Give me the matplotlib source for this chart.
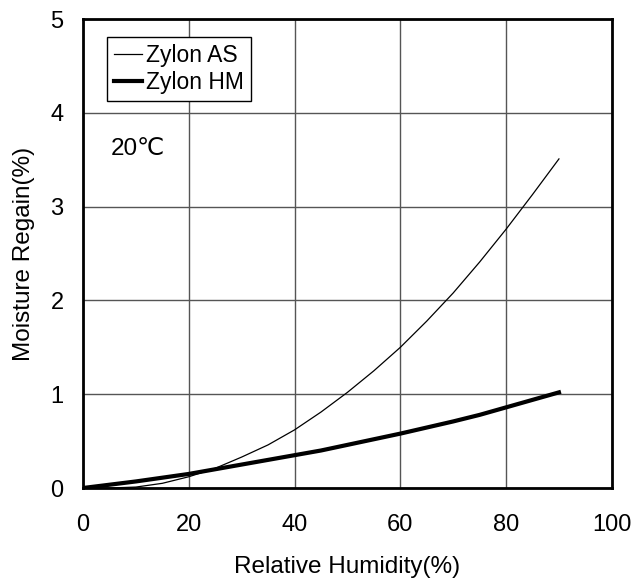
import matplotlib
matplotlib.use("Agg")
import matplotlib.pyplot as plt

plt.rcParams['font.family'] = ['Liberation Sans', 'DejaVu Sans']

# Relative humidity (%) vs moisture regain (%) at 20C
humidity = [0, 5, 10, 15, 20, 25, 30, 35, 40, 45, 50, 55, 60, 65, 70, 75, 80, 85, 90]
regain_as = [0.0, 0.0, 0.01, 0.05, 0.12, 0.21, 0.33, 0.46, 0.62, 0.81, 1.02,
             1.25, 1.50, 1.78, 2.08, 2.41, 2.76, 3.13, 3.51]
regain_hm = [0.0, 0.035, 0.07, 0.11, 0.15, 0.20, 0.25, 0.30, 0.35, 0.40, 0.46,
             0.52, 0.58, 0.645, 0.71, 0.78, 0.86, 0.94, 1.02]

fig = plt.figure(figsize=(6.36, 5.82), dpi=100)
ax = fig.add_axes([0.1305, 0.1615, 0.8315, 0.8055])

ax.plot(humidity, regain_as, color='black', linewidth=0.9, label='Zylon AS')
ax.plot(humidity, regain_hm, color='black', linewidth=3.0, label='Zylon HM')

ax.set_xlim(0, 100)
ax.set_ylim(0, 5)
ax.set_xticks([0, 20, 40, 60, 80, 100])
ax.set_yticks([0, 1, 2, 3, 4, 5])
ax.grid(True, color='#555555', linewidth=1.0)
ax.tick_params(length=0, labelsize=17)
ax.tick_params(axis='x', pad=19)
ax.tick_params(axis='y', pad=14)
for s in ax.spines.values():
    s.set_linewidth(2)

ax.set_xlabel('Relative Humidity(%)', fontsize=17.5, labelpad=14)
ax.set_ylabel('Moisture Regain(%)', fontsize=17.5, labelpad=11)

ax.text(5.2, 3.55, '20\u2103', fontsize=17.5)

leg = ax.legend(loc='upper left', bbox_to_anchor=(0.046, 0.962), fontsize=16.5,
                frameon=True, fancybox=False, edgecolor='black', framealpha=1,
                handlelength=1.2, handletextpad=0.2, borderpad=0.3,
                labelspacing=0.2, borderaxespad=0)
leg.get_frame().set_linewidth(1)

fig.savefig('out.png', dpi=100)
